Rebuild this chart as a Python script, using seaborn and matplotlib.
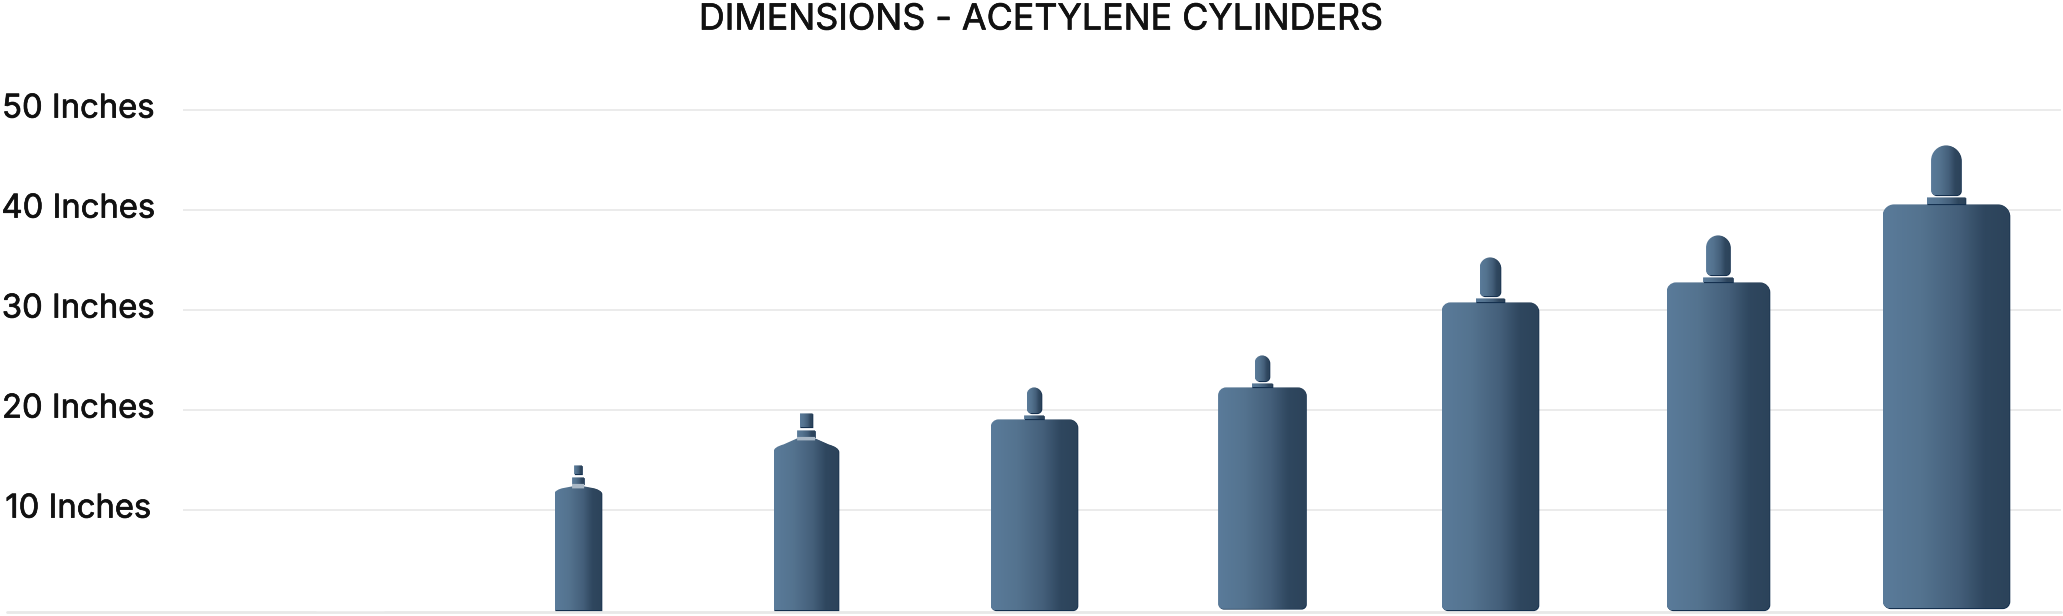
"""
Dimensions of acetylene cylinders, drawn as gradient cylinder shapes.
"""
import matplotlib

matplotlib.use("Agg")

import matplotlib.patheffects as path_effects
import matplotlib.pyplot as plt
import matplotlib.transforms as mtransforms
import numpy as np
import pandas as pd
import seaborn as sns
from matplotlib.colors import LinearSegmentedColormap
from matplotlib.path import Path
from matplotlib.patches import PathPatch

# Heights are all inches off the baseline
categories = ["", "Size 1", "Size 2", "Size 3", "Size 4", "Size 5", "Size 6", "Size 7"]
shoulder_height = [0, 11.7, 15.9, 19.1, 22.3, 30.8, 32.8, 40.6]
total_height = [0, 14.5, 19.7, 22.3, 25.5, 35.3, 37.5, 46.5]
collar_height = [0, 13.3, 18.0, 19.5, 22.7, 31.2, 33.3, 41.3]
neck_height = [0, 12.4, 17.2, 19.1, 22.3, 30.8, 32.8, 40.6]
body_bottom = [0, 0, 0, 0, 0.15, 0, 0, 0.2]
diameter = [0, 4.7, 6.5, 8.7, 8.8, 9.7, 10.3, 12.7]
cap_width = [0, 0.8, 1.3, 1.5, 1.5, 2.1, 2.4, 3.0]
collar_width = [0, 1.2, 1.8, 2.0, 2.1, 2.9, 3.0, 3.9]
y_ticks = [10, 20, 30, 40, 50]
y_labels = ["10 Inches", "20 Inches", "30 Inches", "40 Inches", "50 Inches"]
title = "DIMENSIONS - ACETYLENE CYLINDERS"

INCHES_PER_SLOT = 22.8
KAPPA = 0.55
CYLINDER_CMAP = LinearSegmentedColormap.from_list(
    "cylinder",
    [(0.0, "#5a7b9a"), (0.3, "#54738f"), (0.6, "#445f7a"), (0.8, "#2f475f"), (1.0, "#2c435a")],
)
TEXT_STROKE = [path_effects.withStroke(linewidth=0.5, foreground="#111111")]

sns.set_theme(style="white")
plt.rcParams["font.family"] = ["Inter", "DejaVu Sans"]


def rounded_path(x0, x1, y0, y1, top_r, bottom_r=0.0):
    """Rounded rectangle, x in slots and y in inches; radii are in inches."""
    tx, bx = top_r / INCHES_PER_SLOT, bottom_r / INCHES_PER_SLOT
    k = 1 - KAPPA
    verts = [
        (x0 + bx, y0), (x1 - bx, y0),
        (x1 - bx * k, y0), (x1, y0 + bottom_r * k), (x1, y0 + bottom_r),
        (x1, y1 - top_r),
        (x1, y1 - top_r * k), (x1 - tx * k, y1), (x1 - tx, y1),
        (x0 + tx, y1),
        (x0 + tx * k, y1), (x0, y1 - top_r * k), (x0, y1 - top_r),
        (x0, y0 + bottom_r),
        (x0, y0 + bottom_r * k), (x0 + bx * k, y0), (x0 + bx, y0),
        (x0 + bx, y0),
    ]
    codes = [
        Path.MOVETO, Path.LINETO,
        Path.CURVE4, Path.CURVE4, Path.CURVE4,
        Path.LINETO,
        Path.CURVE4, Path.CURVE4, Path.CURVE4,
        Path.LINETO,
        Path.CURVE4, Path.CURVE4, Path.CURVE4,
        Path.LINETO,
        Path.CURVE4, Path.CURVE4, Path.CURVE4,
        Path.CLOSEPOLY,
    ]
    return Path(verts, codes)


def shouldered_path(x0, x1, centre, neck_w, y_shoulder, y_top, size):
    """Body of the two small cylinders, tapering into the neck."""
    scale = size / 6.5
    rx = scale / INCHES_PER_SLOT
    rise = 0.7 * scale
    verts = [
        (x0, 0), (x1, 0), (x1, y_shoulder),
        (x1, y_shoulder + rise * 0.6), (x1 - rx, y_shoulder + rise),
        (centre + neck_w / 2, y_top), (centre - neck_w / 2, y_top),
        (x0 + rx, y_shoulder + rise),
        (x0, y_shoulder + rise * 0.6), (x0, y_shoulder), (x0, 0),
    ]
    codes = [
        Path.MOVETO, Path.LINETO, Path.LINETO,
        Path.CURVE3, Path.CURVE3,
        Path.LINETO, Path.LINETO, Path.LINETO,
        Path.CURVE3, Path.CURVE3, Path.CLOSEPOLY,
    ]
    return Path(verts, codes)


def fill_gradient(ax, path, zorder=3):
    """Left-to-right gradient clipped to the path, with a dark edge on the right and bottom."""
    shift = mtransforms.ScaledTranslation(0.007, -0.007, ax.figure.dpi_scale_trans)
    ax.add_patch(PathPatch(path, facecolor="#14304f", edgecolor="none", zorder=zorder,
                           transform=ax.transData + shift))
    box = path.get_extents()
    image = ax.imshow(
        np.linspace(0, 1, 256).reshape(1, -1),
        cmap=CYLINDER_CMAP,
        extent=(box.x0, box.x1, box.y0, box.y1),
        aspect="auto",
        zorder=zorder,
        interpolation="bilinear",
    )
    image.set_clip_path(PathPatch(path, transform=ax.transData))


fig = plt.figure(figsize=(20.63, 6.16), dpi=100)
ax = fig.add_axes([183 / 2063, 4 / 616, 1878 / 2063, 612 / 616])

df = pd.DataFrame({"cylinder": categories, "height": shoulder_height})
sns.barplot(data=df, x="cylinder", y="height", color="#47637f", width=0.3, ax=ax, zorder=3)

for i, bar in enumerate(ax.patches):
    if bar.get_height() == 0:
        continue
    bar.set_visible(False)
    centre = bar.get_x() + bar.get_width() / 2
    half = diameter[i] / INCHES_PER_SLOT / 2
    x0, x1 = centre - half, centre + half
    cap_half = cap_width[i] / INCHES_PER_SLOT / 2
    collar_half = collar_width[i] / INCHES_PER_SLOT / 2

    if neck_height[i] > shoulder_height[i]:
        # small sizes: tapered shoulder, square valve and a pale band below the collar
        body = shouldered_path(x0, x1, centre, collar_half * 2, bar.get_height(), neck_height[i], diameter[i])
        fill_gradient(ax, body)
        band = rounded_path(centre - collar_half, centre + collar_half, neck_height[i] - 0.2, collar_height[i] - 0.65, 0)
        ax.add_patch(PathPatch(band, facecolor="#a9b8c6", edgecolor="none", zorder=4))
        fill_gradient(ax, rounded_path(centre - collar_half, centre + collar_half, collar_height[i] - 0.7, collar_height[i], 0))
        fill_gradient(ax, rounded_path(centre - cap_half, centre + cap_half, collar_height[i] + 0.3, total_height[i], 0))
    else:
        radius = diameter[i] * 0.09
        fill_gradient(ax, rounded_path(x0, x1, body_bottom[i], neck_height[i], radius, radius * 0.65))
        fill_gradient(ax, rounded_path(centre - collar_half, centre + collar_half, neck_height[i], collar_height[i], 0))
        fill_gradient(ax, rounded_path(centre - cap_half, centre + cap_half, collar_height[i] + 0.2, total_height[i], cap_width[i] * 0.5, 0.5))

ax.set_xlim(-0.733, 7.504)
ax.set_ylim(-0.16, 61.04)
ax.set_yticks(y_ticks, y_labels)
ax.set_xticks([])
ax.set_xlabel("")
ax.set_ylabel("")
ax.yaxis.grid(True, color="#ebebeb", linewidth=1.4, zorder=0)
ax.set_axisbelow(True)
sns.despine(ax=ax, left=True, bottom=True)
ax.patch.set_alpha(0)

# labels are centred in the strip left of the grid and sit slightly above their line
ax.tick_params(axis="y", length=0, pad=28)
lift = mtransforms.ScaledTranslation(0, 0.013, fig.dpi_scale_trans)
for label in ax.get_yticklabels():
    label.set_fontsize(23.6)
    label.set_color("#111111")
    label.set_horizontalalignment("center")
    label.set_verticalalignment("center")
    label.set_x(-0.0351)
    label.set_transform(label.get_transform() + lift)
    label.set_path_effects(TEXT_STROKE)

ax.axhline(-0.16, xmin=-176 / 1878, xmax=1, color="#e8e8e8", linewidth=2, clip_on=False, zorder=1)

fig.text(1041 / 2063, 1 - 20 / 616, title, ha="center", va="center", fontsize=25.8,
         color="#111111", path_effects=TEXT_STROKE)

fig.savefig("out.png", dpi=100)
plt.close(fig)
